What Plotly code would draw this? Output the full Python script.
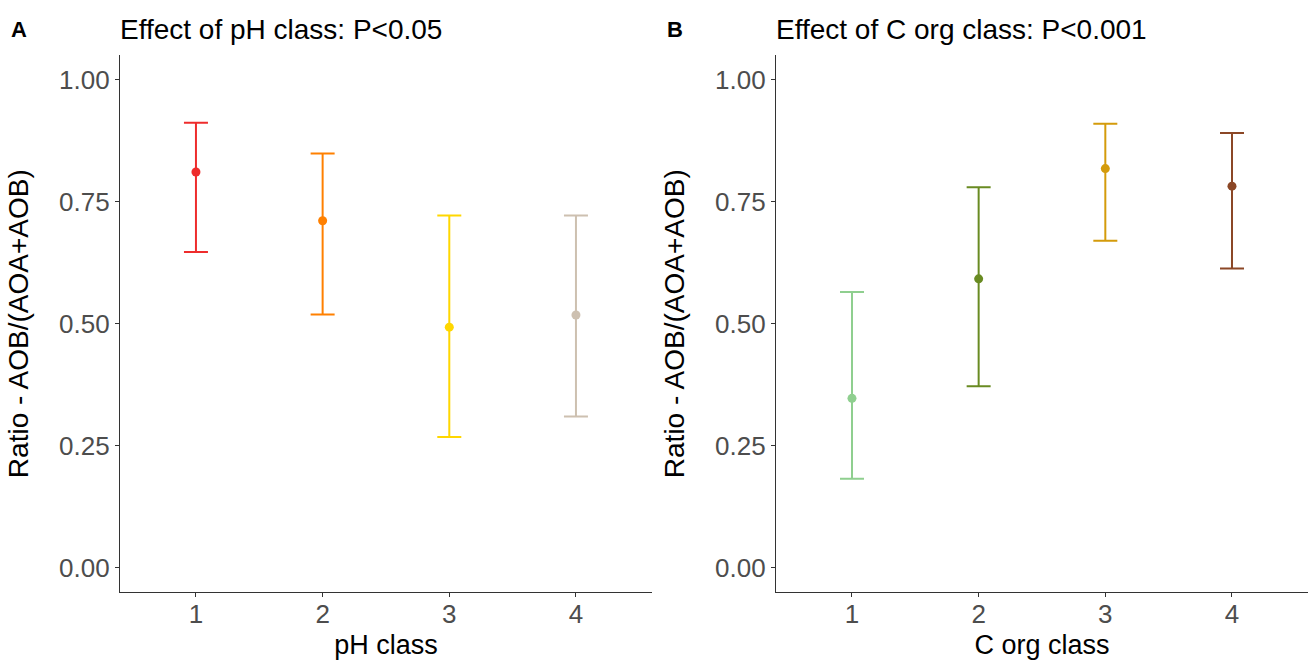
import plotly.graph_objects as go

classes = ["1", "2", "3", "4"]

ph_mean = [0.811, 0.711, 0.493, 0.518]
ph_upper = [0.912, 0.849, 0.722, 0.722]
ph_lower = [0.647, 0.519, 0.268, 0.310]
ph_colors = ["#EE2C2C", "#FF8000", "#FFD700", "#CDC0B0"]

corg_mean = [0.347, 0.592, 0.818, 0.782]
corg_upper = [0.565, 0.780, 0.910, 0.891]
corg_lower = [0.182, 0.372, 0.670, 0.613]
corg_colors = ["#8FCF8F", "#698B22", "#D49B0B", "#8B4726"]

FONT = "Liberation Sans, Arial, sans-serif"
W, H = 1311, 660

fig = go.Figure()

def add_panel(means, uppers, lowers, colors, xa, ya):
    for c, m, u, l, col in zip(classes, means, uppers, lowers, colors):
        fig.add_trace(go.Scatter(
            x=[c], y=[m], mode="markers",
            marker=dict(color=col, size=9),
            error_y=dict(type="data", symmetric=False,
                         array=[u - m], arrayminus=[m - l],
                         color=col, thickness=2, width=12),
            xaxis=xa, yaxis=ya, showlegend=False, hoverinfo="skip"))

add_panel(ph_mean, ph_upper, ph_lower, ph_colors, "x", "y")
add_panel(corg_mean, corg_upper, corg_lower, corg_colors, "x2", "y2")

ydom = [0.103, 0.916]
xcommon = dict(type="category", range=[-0.6, 3.6], showgrid=False, zeroline=False,
               showline=True, linecolor="#333333", linewidth=1.2,
               ticks="outside", ticklen=4, tickcolor="#333333", tickwidth=1,
               ticklabelstandoff=-5,
               tickfont=dict(family=FONT, size=26, color="#4D4D4D"),
               title_font=dict(family=FONT, size=27, color="#000000"),
               title_standoff=6, fixedrange=True)
ycommon = dict(range=[-0.05, 1.05], showgrid=False, zeroline=False,
               showline=True, linecolor="#333333", linewidth=1.2,
               ticks="outside", ticklen=4, tickcolor="#333333", tickwidth=1,
               tickvals=[0, 0.25, 0.5, 0.75, 1.0],
               ticktext=["0.00", "0.25", "0.50", "0.75", "1.00"],
               tickfont=dict(family=FONT, size=26, color="#4D4D4D"),
               title_font=dict(family=FONT, size=28, color="#000000"),
               title_standoff=22, fixedrange=True,
               domain=ydom)

fig.update_layout(
    width=W, height=H,
    margin=dict(l=0, r=0, t=0, b=0),
    plot_bgcolor="white", paper_bgcolor="white",
    xaxis=dict(xcommon, domain=[0.0915, 0.4973], anchor="y",
               title=dict(text="pH class")),
    yaxis=dict(ycommon, anchor="x",
               title=dict(text="Ratio - AOB/(AOA+AOB)")),
    xaxis2=dict(xcommon, domain=[0.5919, 0.9977], anchor="y2",
                title=dict(text="C org class")),
    yaxis2=dict(ycommon, anchor="x2",
                title=dict(text="Ratio - AOB/(AOA+AOB)")),
)

ann = []
for txt, px, py, size, anchor in [
    ("<b>A</b>", 9, 30, 22, "left"),
    ("<b>B</b>", 665, 30, 22, "left"),
    ("Effect of pH class: P<0.05", 118, 30, 28, "left"),
    ("Effect of C org class: P<0.001", 774, 30, 28, "left"),
]:
    ann.append(dict(text=txt, x=px / W, y=1 - py / H, xref="paper", yref="paper",
                    xanchor=anchor, yanchor="middle", showarrow=False,
                    font=dict(family=FONT, size=size, color="#000000")))
fig.update_layout(annotations=ann)

fig.write_html("out.html")
